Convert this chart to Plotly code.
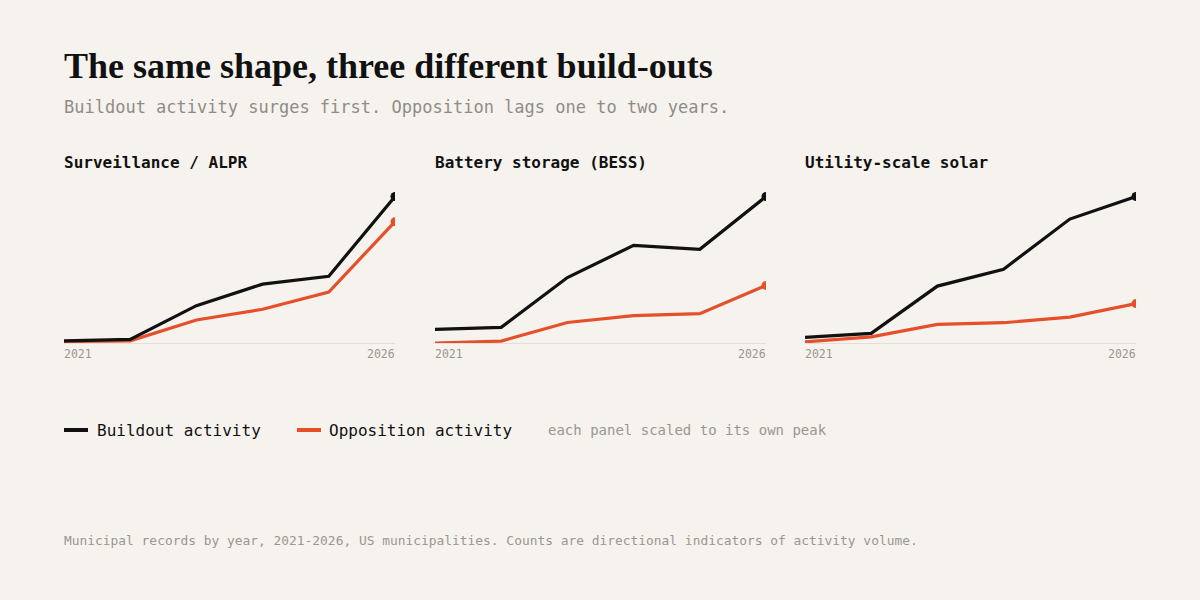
import plotly.graph_objects as go

years = [2021, 2022, 2023, 2024, 2025, 2026]
panel_titles = ["Surveillance / ALPR", "Battery storage (BESS)", "Utility-scale solar"]

alpr_buildout = [3, 5, 52, 82, 93, 204]
alpr_opposition = [2, 3, 32, 47, 71, 169]
bess_buildout = [14, 16, 67, 100, 96, 150]
bess_opposition = [0, 2, 21, 28, 30, 59]
solar_buildout = [10, 17, 101, 131, 220, 260]
solar_opposition = [2, 11, 33, 36, 46, 70]

series_names = ["Buildout activity", "Opposition activity"]
tick_labels = ["2021", "2026"]

title = "The same shape, three different build-outs"
subtitle = "Buildout activity surges first. Opposition lags one to two years."
note = "each panel scaled to its own peak"
footer = ("Municipal records by year, 2021-2026, US municipalities. "
          "Counts are directional indicators of activity volume.")

BG = "#F6F3EE"
BLACK = "#111111"
ORANGE = "#E5502B"
GRAY = "#8f8c87"
LIGHT = "#9a9690"
MONO = "DejaVu Sans Mono"
SERIF = "Liberation Serif"
W, H = 1200, 600

panels = [
    (alpr_buildout, alpr_opposition),
    (bess_buildout, bess_opposition),
    (solar_buildout, solar_opposition),
]
x_px = [(64, 395), (435, 766), (805, 1136)]
y_bottom_px, y_top_px = 343, 189.2

fig = go.Figure()


def label(x, y, text, size, color, family=MONO, anchor="left", xref="paper"):
    fig.add_annotation(
        xref=xref, yref="paper", x=x, y=y,
        xanchor=anchor, yanchor="middle", showarrow=False, text=text,
        xshift=-2 if anchor == "left" else 2,
        font=dict(family=family, size=size, color=color),
    )


for i, (b, o) in enumerate(panels):
    peak = max(max(b), max(o))
    sfx = "" if i == 0 else str(i + 1)
    for vals, color in ((o, ORANGE), (b, BLACK)):
        norm = [v / peak for v in vals]
        fig.add_trace(go.Scatter(
            x=years, y=norm, mode="lines",
            line=dict(color=color, width=3.2),
            xaxis="x" + sfx, yaxis="y" + sfx, showlegend=False,
            hoverinfo="skip", cliponaxis=True,
        ))
        fig.add_trace(go.Scatter(
            x=[years[-1]], y=[norm[-1]], mode="markers",
            marker=dict(color=color, size=9),
            xaxis="x" + sfx, yaxis="y" + sfx, showlegend=False,
            hoverinfo="skip", cliponaxis=True,
        ))
    x0, x1 = x_px[i]
    fig.layout["xaxis" + sfx] = dict(
        domain=[x0 / W, x1 / W], range=[years[0], years[-1]],
        showgrid=False, zeroline=False, showticklabels=False, ticks="",
        showline=True, linecolor="#e2ded8", linewidth=1.2,
        layer="below traces", anchor="y" + sfx, fixedrange=True,
    )
    fig.layout["yaxis" + sfx] = dict(
        domain=[(H - y_bottom_px) / H, (H - y_top_px) / H], range=[0, 1.05],
        showgrid=False, zeroline=False, showticklabels=False, ticks="",
        showline=False, anchor="x" + sfx, fixedrange=True,
    )
    label(x0 / W, (H - 162) / H, "<b>" + panel_titles[i] + "</b>", 16, BLACK)
    for lab, anchor in zip(tick_labels, ("left", "right")):
        label(int(lab), (H - 354) / H, lab, 11.5, LIGHT, anchor=anchor, xref="x" + sfx)

label(64 / W, (H - 66) / H, "<b>" + title + "</b>", 36, BLACK, family=SERIF)
label(64 / W, (H - 107) / H, subtitle, 17, GRAY)

legend_items = [(series_names[0], BLACK, 64, 97), (series_names[1], ORANGE, 297, 329)]
for name, color, lx, tx in legend_items:
    fig.add_shape(type="line", xref="paper", yref="paper",
                  x0=lx / W, x1=(lx + 24) / W, y0=(H - 430) / H, y1=(H - 430) / H,
                  line=dict(color=color, width=4))
    label(tx / W, (H - 430) / H, name, 16, BLACK)
label(548 / W, (H - 430) / H, note, 14, LIGHT)

label(64 / W, (H - 540) / H, footer, 12.9, LIGHT)

fig.update_layout(
    width=W, height=H, margin=dict(l=0, r=0, t=0, b=0),
    paper_bgcolor=BG, plot_bgcolor=BG, showlegend=False,
)
fig.write_html("out.html", config={"displayModeBar": False})
